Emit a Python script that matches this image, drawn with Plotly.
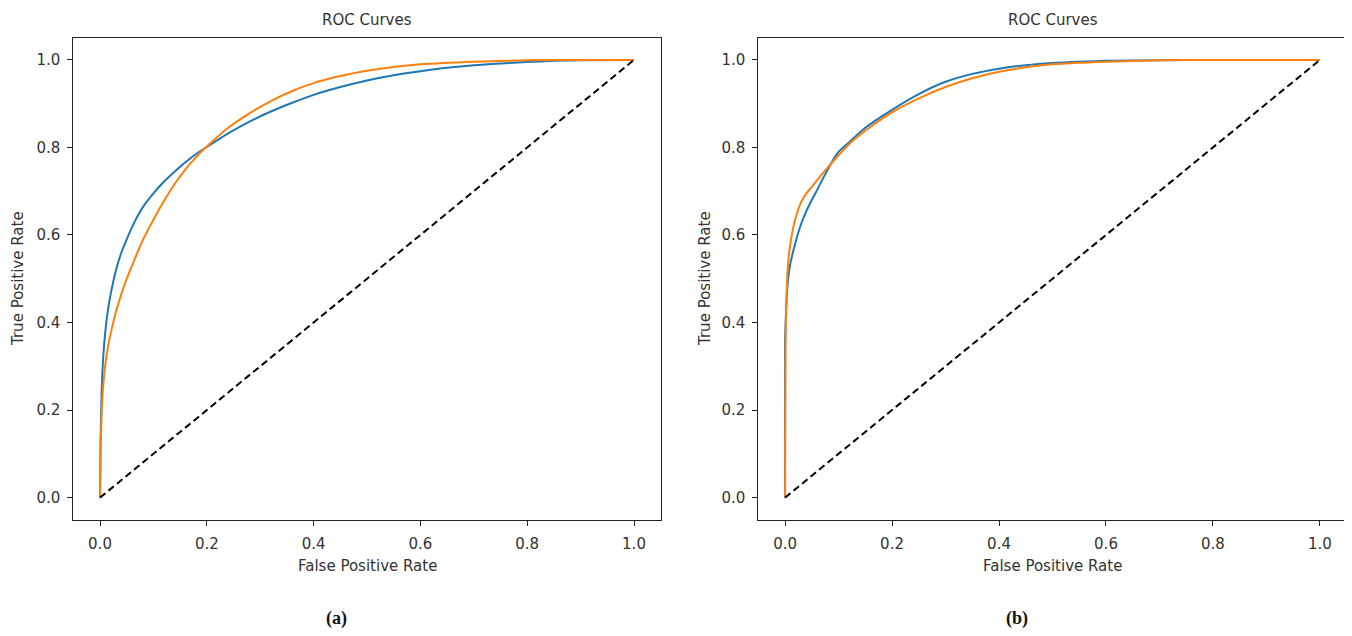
import plotly.graph_objects as go

# Browser body margin is 8px, so the figure is drawn 8px in from the top-left.
OFF = 8
W, H = 1352 - OFF, 636 - OFF

# ---- Data ----
# Panel (a)
a_blue_fpr = [0, 0.001, 0.003, 0.006, 0.01, 0.015, 0.02, 0.03, 0.04, 0.05, 0.06, 0.07, 0.08, 0.1, 0.12, 0.14,
              0.16, 0.18, 0.2, 0.24, 0.28, 0.32, 0.36, 0.4, 0.45, 0.5, 0.55, 0.6, 0.65, 0.7, 0.75, 0.8, 0.85, 0.9, 1.0]
a_blue_tpr = [0, 0.12, 0.24, 0.32, 0.38, 0.43, 0.465, 0.52, 0.56, 0.59, 0.618, 0.642, 0.663, 0.695, 0.722, 0.745,
              0.766, 0.785, 0.801, 0.832, 0.859, 0.882, 0.902, 0.92, 0.938, 0.953, 0.965, 0.974, 0.982, 0.988, 0.992, 0.995, 0.998, 0.999, 1.0]
a_orange_fpr = [0, 0.001, 0.003, 0.006, 0.01, 0.015, 0.02, 0.03, 0.04, 0.05, 0.065, 0.08, 0.1, 0.12, 0.14, 0.16,
                0.18, 0.2, 0.24, 0.28, 0.32, 0.36, 0.4, 0.45, 0.5, 0.55, 0.6, 0.7, 0.8, 0.9, 1.0]
a_orange_tpr = [0, 0.1, 0.19, 0.255, 0.305, 0.345, 0.375, 0.425, 0.465, 0.5, 0.545, 0.588, 0.635, 0.678, 0.717, 0.75,
                0.778, 0.802, 0.845, 0.878, 0.906, 0.929, 0.947, 0.963, 0.975, 0.984, 0.99, 0.996, 0.999, 1.0, 1.0]

# Panel (b)
b_blue_fpr = [0, 0, 0.002, 0.005, 0.01, 0.02, 0.03, 0.04, 0.05, 0.06, 0.07, 0.08, 0.09, 0.1, 0.12, 0.15, 0.2,
              0.25, 0.3, 0.35, 0.4, 0.45, 0.5, 0.55, 0.6, 0.7, 0.8, 1.0]
b_blue_tpr = [0, 0.35, 0.43, 0.49, 0.535, 0.585, 0.625, 0.655, 0.68, 0.703, 0.727, 0.75, 0.772, 0.79, 0.812, 0.845, 0.886,
              0.922, 0.95, 0.968, 0.98, 0.988, 0.993, 0.996, 0.998, 0.999, 1.0, 1.0]
b_orange_fpr = [0, 0.001, 0.003, 0.006, 0.01, 0.015, 0.02, 0.03, 0.04, 0.05, 0.07, 0.09, 0.1, 0.12, 0.15, 0.2,
                0.25, 0.3, 0.35, 0.4, 0.45, 0.5, 0.6, 0.7, 0.8, 1.0]
b_orange_tpr = [0, 0.35, 0.47, 0.54, 0.58, 0.615, 0.64, 0.675, 0.695, 0.71, 0.74, 0.768, 0.782, 0.808, 0.838, 0.88,
                0.912, 0.938, 0.958, 0.973, 0.983, 0.99, 0.996, 0.999, 1.0, 1.0]

chance = [0, 1]
ticks = [0.0, 0.2, 0.4, 0.6, 0.8, 1.0]
tick_text = ["0.0", "0.2", "0.4", "0.6", "0.8", "1.0"]

BLUE = "#1f77b4"
ORANGE = "#ff7f0e"
TXT = "#333333"
FONT = "DejaVu Sans"

fig = go.Figure()

panels = [
    ("x", "y", a_blue_fpr, a_blue_tpr, a_orange_fpr, a_orange_tpr),
    ("x2", "y2", b_blue_fpr, b_blue_tpr, b_orange_fpr, b_orange_tpr),
]
for xa, ya, bx, by, ox, oy in panels:
    fig.add_trace(go.Scatter(x=bx, y=by, mode="lines", line=dict(color=BLUE, width=2, shape="spline", smoothing=0.6),
                             xaxis=xa, yaxis=ya, showlegend=False))
    fig.add_trace(go.Scatter(x=ox, y=oy, mode="lines", line=dict(color=ORANGE, width=2, shape="spline", smoothing=0.6),
                             xaxis=xa, yaxis=ya, showlegend=False))
    fig.add_trace(go.Scatter(x=chance, y=chance, mode="lines",
                             line=dict(color="black", width=2, dash="7px,4px"),
                             xaxis=xa, yaxis=ya, showlegend=False))


def px(x):
    return (x - OFF) / W


def py(y):
    return 1 - (y - OFF) / H


ydom = [py(519.5), py(38)]
axis_common = dict(range=[-0.05, 1.05], tickvals=ticks, ticktext=tick_text,
                   showgrid=False, zeroline=False, showline=True, linecolor="#222222",
                   linewidth=1, mirror=True, ticks="outside", ticklen=5, tickwidth=1,
                   tickcolor="#222222", tickfont=dict(family=FONT, size=15, color=TXT))

fig.update_layout(
    width=W, height=H,
    margin=dict(l=0, r=0, t=0, b=0),
    paper_bgcolor="white", plot_bgcolor="white",
    xaxis=dict(domain=[px(73.3), px(660.7)], anchor="y", ticklabelstandoff=5, **axis_common),
    yaxis=dict(domain=ydom, anchor="x", ticklabelstandoff=4, **axis_common),
    xaxis2=dict(domain=[px(758.3), px(1346.7)], anchor="y2", ticklabelstandoff=5, **axis_common),
    yaxis2=dict(domain=ydom, anchor="x2", ticklabelstandoff=4, **axis_common),
)

annots = []
for cx, ylab_x, lab, lab_x in [(367, 18, "(a)", 336), (1052.5, 705, "(b)", 1017)]:
    annots.append(dict(text="ROC Curves", x=px(cx), y=py(20), xref="paper", yref="paper",
                       showarrow=False, xanchor="center", yanchor="middle",
                       font=dict(family=FONT, size=15, color=TXT)))
    annots.append(dict(text="False Positive Rate", x=px(cx), y=py(566), xref="paper", yref="paper",
                       showarrow=False, xanchor="center", yanchor="middle",
                       font=dict(family=FONT, size=15, color=TXT)))
    annots.append(dict(text="True Positive Rate", x=px(ylab_x), y=py(279), xref="paper", yref="paper",
                       showarrow=False, xanchor="center", yanchor="middle", textangle=-90,
                       font=dict(family=FONT, size=15, color=TXT)))
    annots.append(dict(text="<b>" + lab + "</b>", x=px(lab_x), y=py(618), xref="paper", yref="paper",
                       showarrow=False, xanchor="center", yanchor="middle",
                       font=dict(family="Liberation Serif", size=18, color="#111111")))
fig.update_layout(annotations=annots)

fig.write_html("out.html")
